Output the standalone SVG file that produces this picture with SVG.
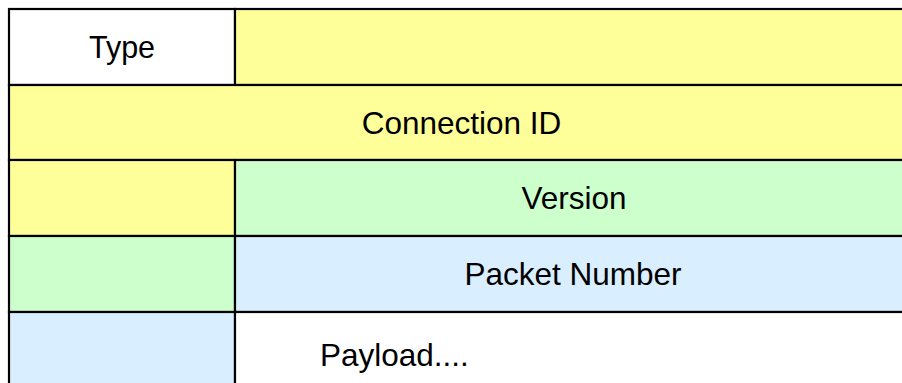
<svg xmlns="http://www.w3.org/2000/svg" width="902" height="383" viewBox="0 0 902 383">
<style>
.c{stroke:#000;stroke-width:2.2}
.y{fill:#ffff99}
.g{fill:#ccffcc}
.b{fill:#d9eeff}
.w{fill:#fff}
text{font-family:"Liberation Sans",Arial,sans-serif;font-size:31.5px;fill:#000}
.m{text-anchor:middle}
</style>
<rect width="902" height="383" fill="#fff"/>
<g id="type"><rect class="c w" x="9" y="9" width="226" height="76"/><text class="m" x="122" y="58" style="font-size:30.5px">Type</text></g>
<g id="row1-rest"><rect class="c y" x="235" y="9" width="679" height="76"/></g>
<g id="connection-id"><rect class="c y" x="9" y="85" width="905" height="75"/><text class="m" x="461.5" y="134">Connection ID</text></g>
<g id="row3-left"><rect class="c y" x="9" y="160" width="226" height="76"/></g>
<g id="version"><rect class="c g" x="235" y="160" width="679" height="76"/><text class="m" x="574" y="209">Version</text></g>
<g id="row4-left"><rect class="c g" x="9" y="236" width="226" height="76"/></g>
<g id="packet-number"><rect class="c b" x="235" y="236" width="679" height="76"/><text class="m" x="573" y="285">Packet Number</text></g>
<g id="row5-left"><rect class="c b" x="9" y="312" width="226" height="80"/></g>
<g id="payload"><rect class="c w" x="235" y="312" width="679" height="80"/><text x="320" y="366">Payload....</text></g>
<g id="connectors"></g>
</svg>
